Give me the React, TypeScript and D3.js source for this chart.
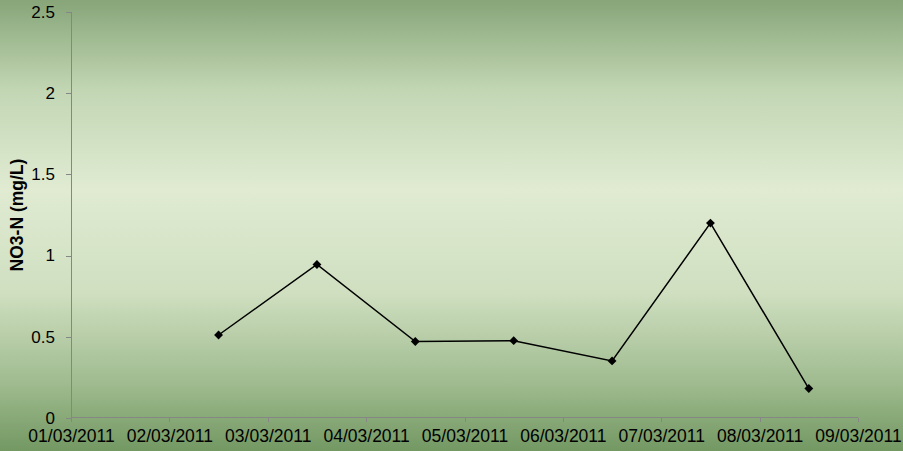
import React, { useEffect, useRef } from "react";
import * as d3 from "d3";

// sample dates (dd/mm/yyyy) and NO3-N readings
const sampleDates = ["02/03/2011", "03/03/2011", "04/03/2011", "05/03/2011", "06/03/2011", "07/03/2011", "08/03/2011"];
const no3Values = [0.51, 0.945, 0.47, 0.475, 0.35, 1.2, 0.18];
const yTicks = [0, 0.5, 1, 1.5, 2, 2.5];
const axisStart = "01/03/2011";
const axisEnd = "09/03/2011";

const parseDate = d3.timeParse("%d/%m/%Y");
const formatDate = d3.timeFormat("%d/%m/%Y");

function App() {
  const svgRef = useRef<SVGSVGElement | null>(null);

  useEffect(() => {
    const width = 903;
    const height = 451;
    const left = 71;
    const right = 858;
    const top = 12.3;
    const bottom = 417.7;

    const svg = d3.select(svgRef.current).attr("width", width).attr("height", height);
    svg.selectAll("*").remove();

    // background gradient
    const defs = svg.append("defs");
    const grad = defs.append("linearGradient").attr("id", "bg").attr("x1", 0).attr("y1", 0).attr("x2", 0).attr("y2", 1);
    grad.append("stop").attr("offset", "0%").attr("stop-color", "#87a579");
    grad.append("stop").attr("offset", "20%").attr("stop-color", "#c2d6b4");
    grad.append("stop").attr("offset", "42%").attr("stop-color", "#e0ebd2");
    grad.append("stop").attr("offset", "65%").attr("stop-color", "#cfdfc0");
    grad.append("stop").attr("offset", "85%").attr("stop-color", "#9fbb8f");
    grad.append("stop").attr("offset", "100%").attr("stop-color", "#739862");
    svg.append("rect").attr("width", width).attr("height", height).attr("fill", "url(#bg)");

    const data = sampleDates.map((d, i) => ({
      date: d3.timeHour.offset(parseDate(d) as Date, 12),
      value: no3Values[i]
    }));

    const xScale = d3
      .scaleTime()
      .domain([parseDate(axisStart) as Date, parseDate(axisEnd) as Date])
      .range([left, right]);

    const yScale = d3.scaleLinear().domain([0, 2.5]).range([bottom, top]);

    const font = "'Liberation Sans', Arial, sans-serif";

    // y axis
    const yAxis = svg.append("g")
      .attr("transform", `translate(${left},0)`)
      .call(d3.axisLeft(yScale).tickValues(yTicks).tickSize(5).tickPadding(11).tickFormat((d) => String(d)));
    yAxis.select(".domain").attr("stroke", "#868686").attr("d", `M0,${top}V${bottom}`);
    yAxis.selectAll(".tick line").attr("stroke", "#868686");
    yAxis.selectAll(".tick text").attr("font-family", font).attr("font-size", 17).attr("fill", "#000");

    // x axis
    const xAxis = svg.append("g")
      .attr("transform", `translate(0,${bottom})`)
      .call(d3.axisBottom(xScale).ticks(d3.timeDay.every(1)).tickSize(4).tickPadding(8).tickFormat((d) => formatDate(d as Date)));
    xAxis.select(".domain").attr("stroke", "#868686").attr("d", `M${left},0H${right}`);
    xAxis.selectAll(".tick line").attr("stroke", "#868686");
    xAxis.selectAll(".tick text").attr("font-family", font).attr("font-size", 17.5).attr("fill", "#000");
    svg.selectAll(".domain, .tick line").attr("shape-rendering", "crispEdges");

    // line
    const line = d3.line<{ date: Date; value: number }>()
      .x((d) => xScale(d.date))
      .y((d) => yScale(d.value));

    svg.append("path")
      .datum(data)
      .attr("d", line)
      .attr("fill", "none")
      .attr("stroke", "#000")
      .attr("stroke-width", 1.5);

    // diamond markers
    const diamond = d3.symbol().type(d3.symbolDiamond2).size(50);
    svg.append("g")
      .selectAll("path")
      .data(data)
      .join("path")
      .attr("d", diamond)
      .attr("transform", (d) => `translate(${xScale(d.date)},${yScale(d.value)})`)
      .attr("fill", "#000");

    // y title
    svg.append("text")
      .attr("transform", `translate(23,${(top + bottom) / 2}) rotate(-90)`)
      .attr("text-anchor", "middle")
      .attr("font-family", font)
      .attr("font-weight", "bold")
      .attr("font-size", 17.5)
      .text("NO3-N (mg/L)");
  }, []);

  return (
    <svg ref={svgRef} style={{ position: "absolute", top: 0, left: 0 }}></svg>
  );
}

export default App;
